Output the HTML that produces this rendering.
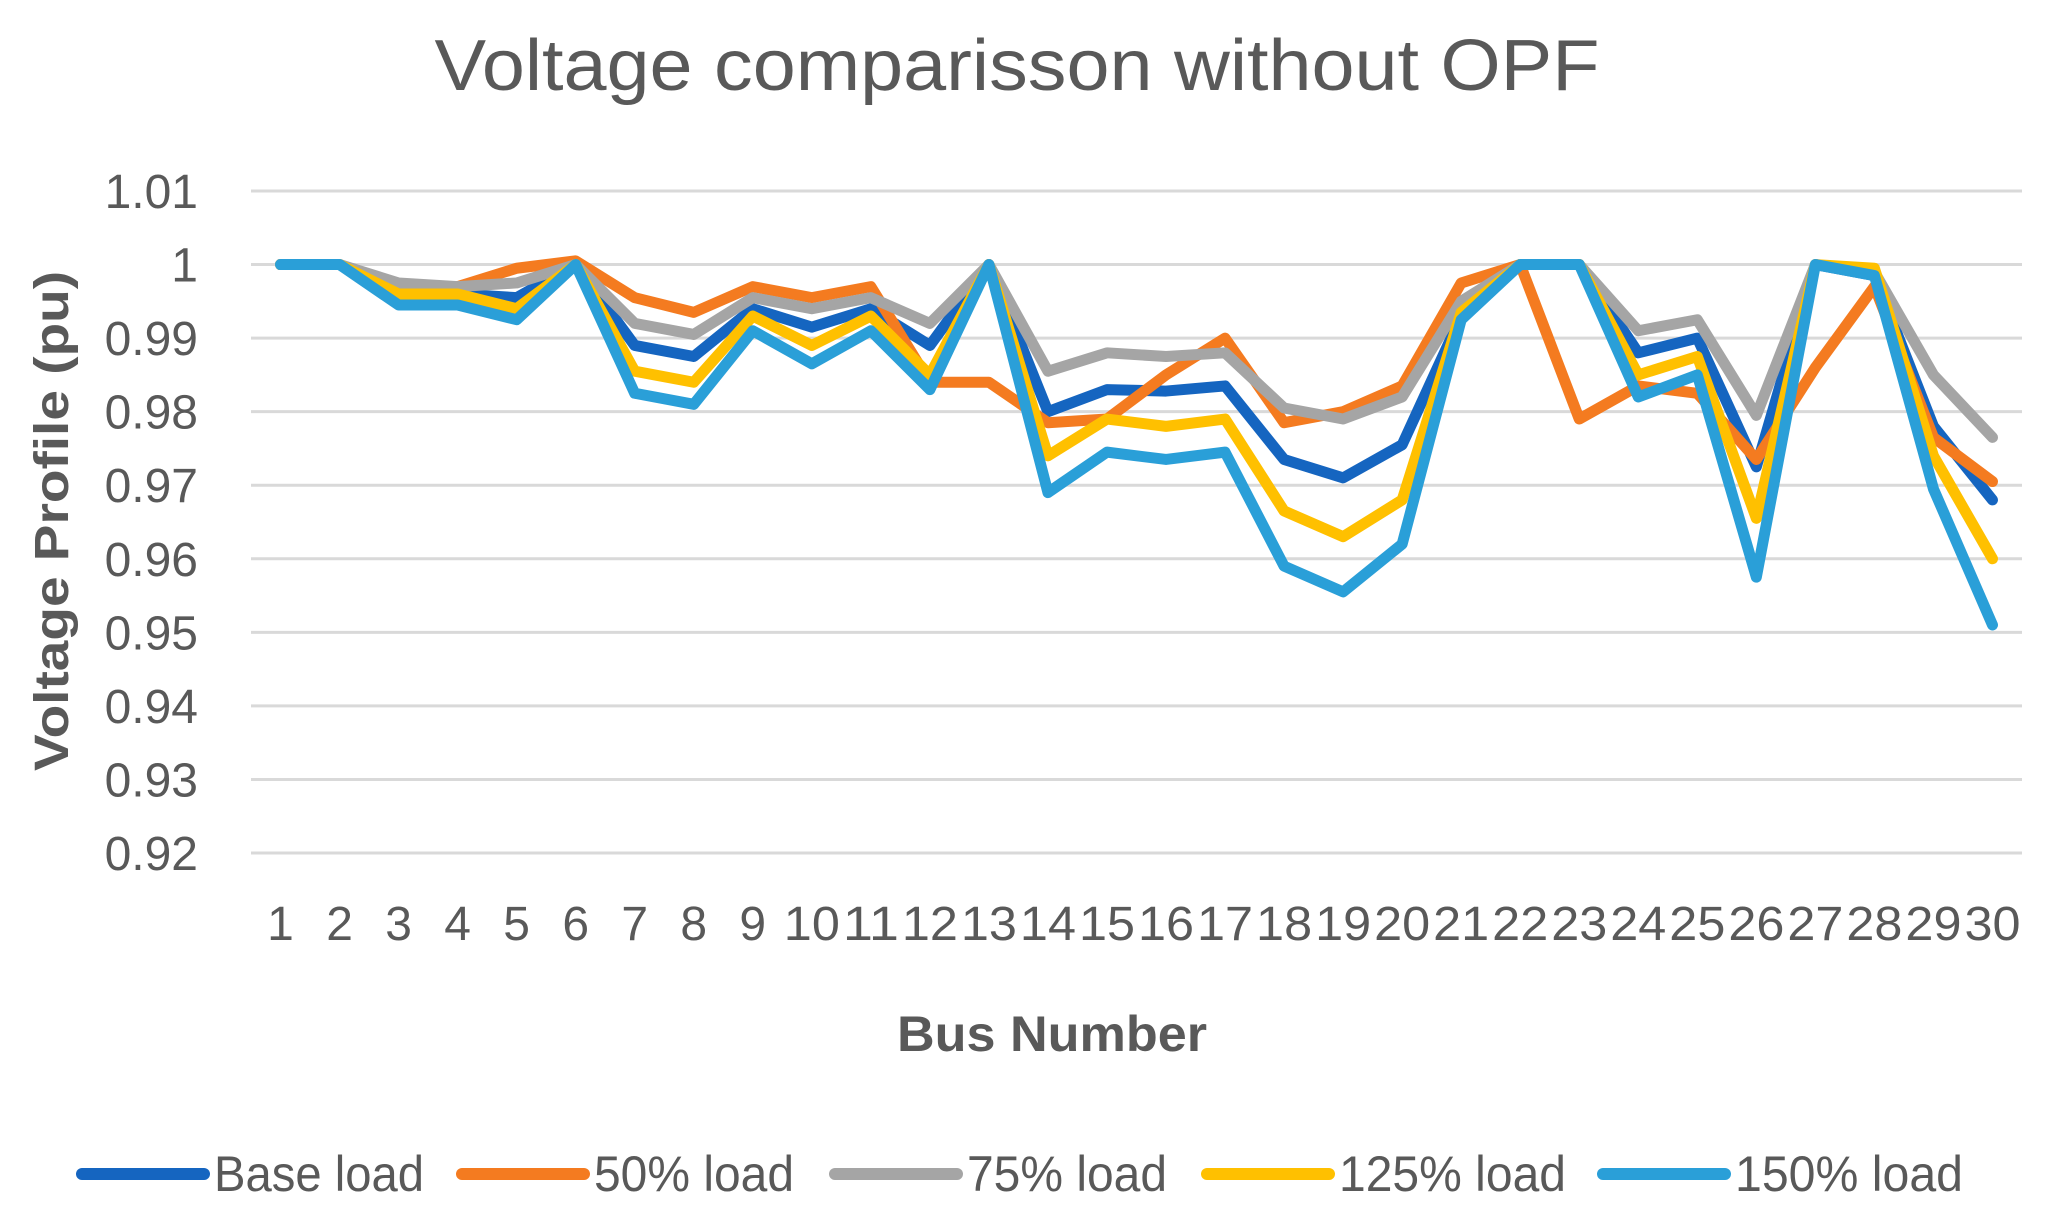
<!DOCTYPE html>
<html><head><meta charset="utf-8"><style>
html,body{margin:0;padding:0;background:#fff;}
svg{display:block;font-family:"Liberation Sans",sans-serif;}
</style></head><body>
<svg id="chart" width="2057" height="1217" viewBox="0 0 2057 1217" xmlns="http://www.w3.org/2000/svg">
<rect width="2057" height="1217" fill="#fff"/>
<text x="1017" y="90" text-anchor="middle" font-size="72" fill="#595959" textLength="1165" lengthAdjust="spacingAndGlyphs">Voltage comparisson without OPF</text>
<g id="grid"></g><g id="yticks"></g><g id="xticks"></g><g id="series"></g>
<text transform="translate(68,521) rotate(-90)" text-anchor="middle" font-size="48" font-weight="bold" fill="#595959" textLength="500" lengthAdjust="spacingAndGlyphs">Voltage Profile (pu)</text>
<text x="1052" y="1051" text-anchor="middle" font-size="50" font-weight="bold" fill="#595959" textLength="310" lengthAdjust="spacingAndGlyphs">Bus Number</text>
<g id="legend"></g>
</svg>
<script>
const categories=[1,2,3,4,5,6,7,8,9,10,11,12,13,14,15,16,17,18,19,20,21,22,23,24,25,26,27,28,29,30];
const yTicks=[0.92,0.93,0.94,0.95,0.96,0.97,0.98,0.99,1,1.01];
const yTickLabels=["0.92","0.93","0.94","0.95","0.96","0.97","0.98","0.99","1","1.01"];
const seriesNames=["Base load","50% load","75% load","125% load","150% load"];
const baseLoad=[1,1,0.9965,0.996,0.9955,1,0.989,0.9875,0.994,0.9915,0.994,0.989,1,0.980,0.983,0.9828,0.9835,0.9735,0.971,0.9755,0.993,1,1,0.988,0.990,0.9725,1,0.9985,0.978,0.968];
const load50=[1,1,0.997,0.997,0.9995,1.0005,0.9955,0.9935,0.997,0.9955,0.997,0.984,0.984,0.9785,0.979,0.985,0.990,0.9785,0.980,0.9835,0.9975,1,0.979,0.9835,0.9825,0.9735,0.986,0.997,0.9765,0.9705];
const load75=[1,1,0.9975,0.997,0.9975,1,0.992,0.9905,0.9955,0.994,0.9955,0.992,1,0.9855,0.988,0.9875,0.988,0.9805,0.979,0.982,0.995,1,1,0.991,0.9925,0.9795,1,0.999,0.985,0.9765];
const load125=[1,1,0.996,0.996,0.994,1,0.9855,0.984,0.993,0.989,0.993,0.985,1,0.974,0.979,0.978,0.979,0.9665,0.963,0.968,0.9935,1,1,0.985,0.9875,0.9655,1,0.9995,0.974,0.960];
const load150=[1,1,0.9945,0.9945,0.9925,1,0.9825,0.981,0.991,0.9865,0.991,0.983,1,0.969,0.9745,0.9735,0.9745,0.959,0.9555,0.962,0.9925,1,1,0.982,0.985,0.9575,1,0.9985,0.9695,0.951];
const NS="http://www.w3.org/2000/svg";
const colors=["#1565C0","#F47B20","#A5A5A5","#FFC000","#2A9FD8"];
const allSeries=[baseLoad,load50,load75,load125,load150];
const X0=251,X1=2022,Y0=853,Y1=191,yMin=0.92,yMax=1.01;
const step=(X1-X0)/categories.length;
const xs=i=>X0+step*(i+0.5);
const ys=v=>Y0-(v-yMin)/(yMax-yMin)*(Y0-Y1);
function mk(tag,attrs,parent){const e=document.createElementNS(NS,tag);for(const k in attrs)e.setAttribute(k,attrs[k]);document.getElementById(parent).appendChild(e);return e;}
yTicks.forEach((t,i)=>{
 const l=mk('line',{x1:X0,x2:X1,y1:ys(t),y2:ys(t),stroke:'#D9D9D9','stroke-width':3},'grid');
 
 
 const tx=mk('text',{x:198,y:ys(t)+17,'text-anchor':'end','font-size':48,fill:'#595959'},'yticks');
 tx.textContent=yTickLabels[i];
 
 
});
categories.forEach((c,i)=>{
 const tx=mk('text',{x:xs(i),y:940,'text-anchor':'middle','font-size':48,fill:'#595959'},'xticks');
 if(c>=10){tx.setAttribute('textLength',step-3);tx.setAttribute('lengthAdjust','spacingAndGlyphs');}
 tx.textContent=c;
 
 
});
allSeries.forEach((s,k)=>{
 const p=mk('polyline',{points:s.map((v,i)=>xs(i)+','+ys(v)).join(' '),fill:'none',stroke:colors[k],'stroke-width':11,'stroke-linejoin':'round','stroke-linecap':'round'},'series');
 
 
});
const legX=[82,462,835,1207,1603];
const legW=[210,200,200,227,228];
seriesNames.forEach((n,k)=>{
 const l=mk('line',{x1:legX[k],x2:legX[k]+122,y1:1174,y2:1174,stroke:colors[k],'stroke-width':12,'stroke-linecap':'round'},'legend');
 
 
 const t=mk('text',{x:legX[k]+132,y:1191,'font-size':50,fill:'#595959',textLength:legW[k],lengthAdjust:'spacingAndGlyphs'},'legend');
 t.textContent=n;
 
 
});
</script>
</body></html>
